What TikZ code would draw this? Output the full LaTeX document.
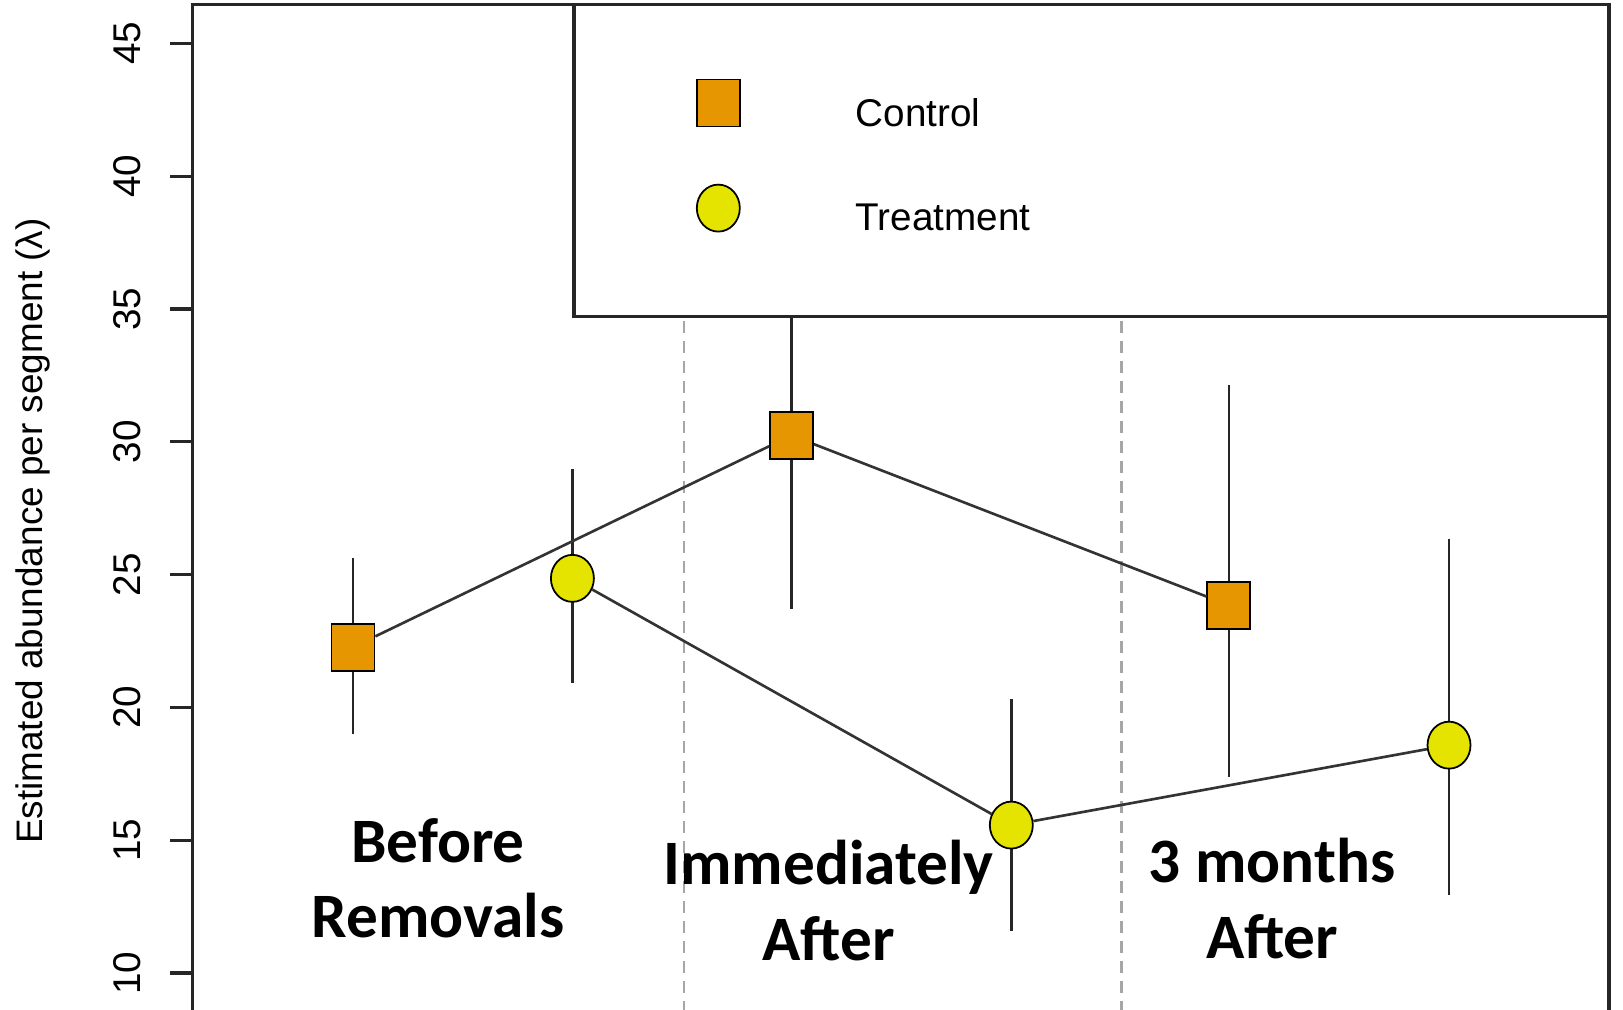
\documentclass[tikz,border=0pt]{standalone}
\usepackage{fontspec}
\setmainfont{Liberation Sans}
\newfontfamily\labelfont{Carlito}
\usetikzlibrary{shapes.geometric}
\definecolor{ctrlorange}{RGB}{229,150,0}
\definecolor{trtyellow}{RGB}{228,228,0}

\begin{document}
\begin{tikzpicture}
 [ctrl node/.style={rectangle,draw,fill=ctrlorange,minimum width=4.3mm,minimum height=4.7mm,inner sep=0pt,line width=0.5pt},
  trt node/.style={ellipse,draw,fill=trtyellow,minimum width=4.3mm,minimum height=4.7mm,inner sep=0pt,line width=0.5pt},
  bar/.style={line width=0.75pt,black!85},
  link/.style={line width=0.75pt,black!80},
  frame/.style={line width=0.9pt,black!85},
  divider/.style={line width=0.7pt,black!35,dash pattern=on 1.17mm off 0.83mm},
  period/.style={font=\labelfont\bfseries\fontsize{18}{21.5}\selectfont,align=center,anchor=base},
  tick label/.style={font=\fontsize{11}{13}\selectfont,rotate=90,anchor=base},
  key label/.style={font=\fontsize{11}{13}\selectfont,anchor=base west,inner sep=0pt}]

\useasboundingbox (0,0) rectangle (16.23,10.09);

\begin{scope}[yshift=-2.296cm, y=0.2656cm]

% axes and box
\draw[frame] (1.923,8.5) -- (1.923,46.45) -- (16.09,46.45) -- (16.09,8.5);
\foreach \v in {10,15,...,45} {
  \draw[frame] (1.70,\v) -- (1.923,\v);
  \node[tick label] (lbl\v) at (1.40,\v) {\v};
}
\node[rotate=90,anchor=base,font=\fontsize{10.5}{12}\selectfont] (ylab) at (0.427,26.64) {Estimated abundance per segment (λ)};

% period dividers
\draw[divider] (6.84,8.5) -- (6.84,46.45);
\draw[divider] (11.217,8.5) -- (11.217,46.45);

% error bars
\coordinate (c1 hi) at (3.530,25.61); \coordinate (c1 lo) at (3.530,19.00);
\coordinate (t1 hi) at (5.724,28.96); \coordinate (t1 lo) at (5.724,20.91);
\coordinate (c2 hi) at (7.915,36.00); \coordinate (c2 lo) at (7.915,23.71);
\coordinate (t2 hi) at (10.113,20.32); \coordinate (t2 lo) at (10.113,11.59);
\coordinate (c3 hi) at (12.288,32.13); \coordinate (c3 lo) at (12.288,17.39);
\coordinate (t3 hi) at (14.49,26.36); \coordinate (t3 lo) at (14.49,12.93);
\foreach \p in {c1,t1,c2,t2,c3,t3}
  \draw[bar] (\p\space hi) -- (\p\space lo);

% legend
\draw[frame,fill=white] (5.74,34.71) rectangle (16.09,46.45);
\node[ctrl node] (key c) at (7.183,42.76) {};
\node[trt node] (key t) at (7.183,38.80) {};
\node[key label] (key c text) at (8.55,41.86) {Control};
\node[key label] (key t text) at (8.55,37.97) {Treatment};

% estimates
\node[ctrl node] (c1) at (3.530,22.27) {};
\node[trt node] (t1) at (5.724,24.86) {};
\node[ctrl node] (c2) at (7.915,30.24) {};
\node[trt node] (t2) at (10.113,15.57) {};
\node[ctrl node] (c3) at (12.288,23.85) {};
\node[trt node] (t3) at (14.49,18.58) {};

\draw[link] (c1) -- (c2) -- (c3);
\draw[link] (t1) -- (t2) -- (t3);

% periods
\node[period] (before) at (4.379,11.33) {Before\\Removals};
\node[period] (immediately) at (8.286,10.47) {Immediately\\After};
\node[period] (months) at (12.721,10.55) {3 months\\After};

\end{scope}
\end{tikzpicture}
\end{document}
